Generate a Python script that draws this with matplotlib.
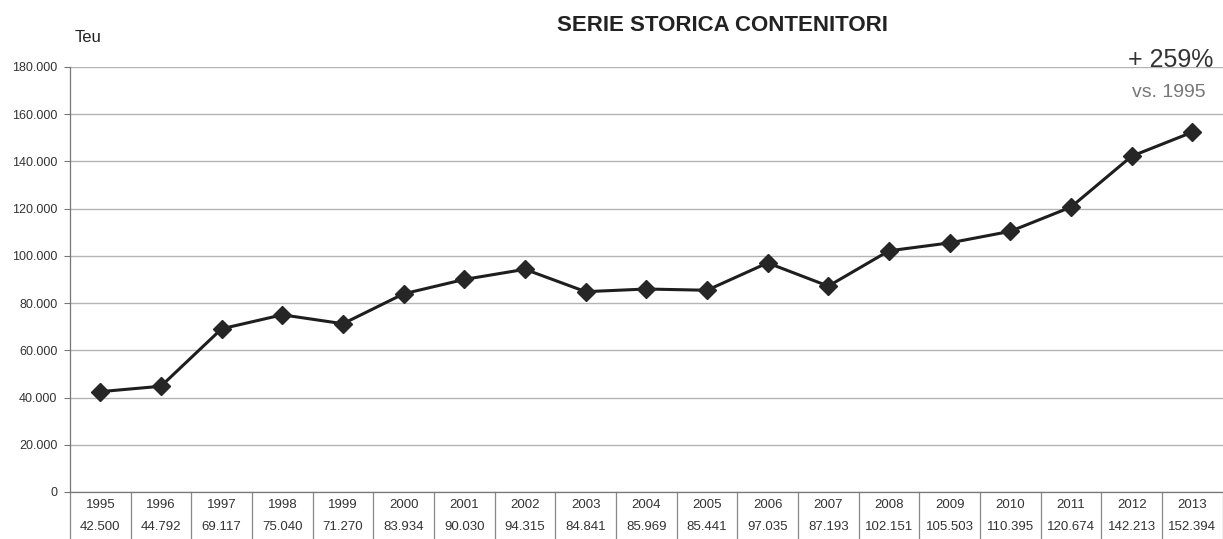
import matplotlib
import matplotlib.pyplot as plt
import matplotlib.transforms as mtransforms
from matplotlib.ticker import FuncFormatter

matplotlib.use("Agg")

plt.rcParams["font.family"] = ["Liberation Sans", "DejaVu Sans"]

years = ["1995", "1996", "1997", "1998", "1999", "2000", "2001", "2002", "2003", "2004",
         "2005", "2006", "2007", "2008", "2009", "2010", "2011", "2012", "2013"]
teu = [42500, 44792, 69117, 75040, 71270, 83934, 90030, 94315, 84841, 85969,
       85441, 97035, 87193, 102151, 105503, 110395, 120674, 142213, 152394]
teu_labels = ["42.500", "44.792", "69.117", "75.040", "71.270", "83.934", "90.030", "94.315",
              "84.841", "85.969", "85.441", "97.035", "87.193", "102.151", "105.503",
              "110.395", "120.674", "142.213", "152.394"]
y_ticks = [0, 20000, 40000, 60000, 80000, 100000, 120000, 140000, 160000, 180000]


def thousands(v, _pos):
    return f"{int(v):,}".replace(",", ".")


fig = plt.figure(figsize=(12.23, 5.39), dpi=100)
ax = fig.add_axes([0.0572, 0.0872, 0.9425, 0.7885])

x = list(range(len(years)))
ax.plot(x, teu, color="#1e1e1e", lw=2.2, marker="D", ms=9,
        markerfacecolor="#262626", markeredgecolor="#262626", zorder=3)

ax.set_xlim(-0.5, len(years) - 0.5)
ax.set_ylim(0, 180000)
ax.set_yticks(y_ticks)
ax.yaxis.set_major_formatter(FuncFormatter(thousands))
ax.yaxis.grid(True, color="#b4b4b4", lw=1.0)
ax.set_axisbelow(True)
ax.set_xticks([])
ax.tick_params(axis="y", length=4, width=0.8, color="#777777", labelsize=9,
               labelcolor="#333333", pad=5)

for side in ("top", "right"):
    ax.spines[side].set_visible(False)
ax.spines["left"].set_color("#777777")
ax.spines["bottom"].set_color("#777777")
ax.spines["left"].set_linewidth(0.9)
ax.spines["bottom"].set_linewidth(0.9)

# data table under the axis: year row and value row, separated by vertical rules
trans = mtransforms.blended_transform_factory(ax.transData, ax.transAxes)
for i in range(len(years) + 1):
    ax.plot([i - 0.5, i - 0.5], [0, -0.12], transform=trans, color="#888888",
            lw=0.9, clip_on=False)
for i, (yr, lab) in enumerate(zip(years, teu_labels)):
    ax.text(i, -0.031, yr, transform=trans, ha="center", va="center",
            fontsize=9.5, color="#333333")
    ax.text(i, -0.082, lab, transform=trans, ha="center", va="center",
            fontsize=9.5, color="#333333")

fig.text(0.591, 0.953, "SERIE STORICA CONTENITORI", ha="center", va="center",
         fontsize=16, fontweight="bold", color="#222222")
fig.text(0.061, 0.93, "Teu", ha="left", va="center", fontsize=12, color="#222222")
fig.text(0.992, 0.888, "+ 259%", ha="right", va="center", fontsize=18, color="#333333")
fig.text(0.986, 0.828, "vs. 1995", ha="right", va="center", fontsize=14, color="#777777")

fig.savefig("out.png", dpi=100)
plt.close(fig)
